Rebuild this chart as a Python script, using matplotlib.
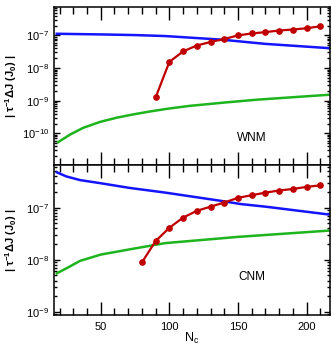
import numpy as np
import matplotlib
matplotlib.use('Agg')
import matplotlib.pyplot as plt
from matplotlib.ticker import MultipleLocator, FixedLocator, LogFormatterSciNotation, NullFormatter

plt.rcParams['font.family'] = ['Liberation Sans', 'DejaVu Sans']
plt.rcParams['mathtext.default'] = 'regular'

# WNM (top panel), values are log10 of |tau^-1 dJ|
wnm_blue_n = [18, 50, 75, 97, 138, 170, 216]
wnm_blue_log = [-6.95, -6.97, -6.99, -7.02, -7.13, -7.26, -7.39]
wnm_green_n = [19, 27.6, 37.3, 49.5, 61.7, 73.7, 85.9, 98.1, 114.5, 139.3, 163.6, 187.8, 215.7]
wnm_green_log = [-10.27, -10.04, -9.83, -9.65, -9.52, -9.42, -9.33, -9.25, -9.16, -9.06, -8.97, -8.90, -8.82]
wnm_red_n = [90, 100, 110, 120, 130, 140, 150, 160, 170, 180, 190, 200, 210]
wnm_red_log = [-8.90, -7.81, -7.49, -7.31, -7.20, -7.11, -7.00, -6.94, -6.90, -6.85, -6.82, -6.78, -6.72]
wnm_decades = [-10, -9, -8, -7]

# CNM (bottom panel)
cnm_blue_n = [18, 25, 35, 50, 57, 71, 97, 138, 152, 170, 216]
cnm_blue_log = [-6.32, -6.40, -6.47, -6.53, -6.56, -6.62, -6.71, -6.87, -6.93, -6.98, -7.13]
cnm_green_n = [18, 26, 35, 50, 71, 97, 150, 216]
cnm_green_log = [-8.26, -8.15, -8.02, -7.90, -7.80, -7.68, -7.56, -7.44]
cnm_red_n = [80, 90, 100, 110, 120, 130, 140, 150, 160, 170, 180, 190, 200, 210]
cnm_red_log = [-8.05, -7.64, -7.385, -7.19, -7.06, -6.98, -6.90, -6.81, -6.76, -6.71, -6.67, -6.64, -6.60, -6.57]
cnm_decades = [-9, -8, -7]

blue = '#1414ff'
green = '#1db41d'
red = '#c00000'

fig = plt.figure(figsize=(3.32, 3.46), dpi=100)
gs = fig.add_gridspec(2, 1, left=53.5/332, right=330/332, top=1-7/346, bottom=1-315/346,
                      hspace=0, height_ratios=[158, 150])
ax1 = fig.add_subplot(gs[0])
ax2 = fig.add_subplot(gs[1], sharex=ax1)

panels = [
    (ax1, wnm_blue_n, wnm_blue_log, wnm_green_n, wnm_green_log, wnm_red_n, wnm_red_log,
     (-10.97, -6.13), wnm_decades, 'WNM', 0.17),
    (ax2, cnm_blue_n, cnm_blue_log, cnm_green_n, cnm_green_log, cnm_red_n, cnm_red_log,
     (-9.06, -6.18), cnm_decades, 'CNM', 0.255),
]

for ax, bn, bl, gn, gl, rn, rl, ylim, decades, name, ty in panels:
    ax.plot(bn, 10**np.array(bl), color=blue, lw=1.8)
    ax.plot(gn, 10**np.array(gl), color=green, lw=1.8)
    ax.plot(rn, 10**np.array(rl), color=red, lw=1.6, marker='o', ms=3.8)
    ax.set_yscale('log')
    ax.set_ylim(10**ylim[0], 10**ylim[1])
    ax.set_xlim(15.6, 217)
    ax.xaxis.set_major_locator(MultipleLocator(50))
    ax.xaxis.set_minor_locator(MultipleLocator(10))
    lo, hi = 10**ylim[0], 10**ylim[1]
    minors = [m * 10.0**d for d in range(decades[0] - 1, decades[-1] + 1) for m in range(2, 10)]
    ax.yaxis.set_major_locator(FixedLocator([10.0**d for d in decades]))
    ax.yaxis.set_minor_locator(FixedLocator([v for v in minors if lo < v < hi]))
    ax.yaxis.set_major_formatter(LogFormatterSciNotation())
    ax.yaxis.set_minor_formatter(NullFormatter())
    ax.tick_params(which='both', direction='in', top=True, right=True, labelsize=8, width=1.0)
    ax.tick_params(axis='x', which='major', length=9.5, pad=5)
    ax.tick_params(axis='x', which='minor', length=4.7)
    ax.tick_params(axis='y', which='major', length=4, pad=3)
    ax.tick_params(axis='y', which='minor', length=2.2)
    for s in ax.spines.values():
        s.set_linewidth(1.1)
    ax.set_ylabel('| τ$^{-1}$ΔJ (J$_0$) |', fontsize=8, fontweight='bold')
    ax.yaxis.set_label_coords(-0.125, 0.5)
    ax.text(0.716, ty, name, transform=ax.transAxes, ha='center', va='center', fontsize=8.5)

ax1.tick_params(axis='x', which='both', labelbottom=False)
ax2.set_xlabel('N$_{c}$', fontsize=9)
ax2.xaxis.set_label_coords(0.5, -0.105)

fig.savefig('out.png', dpi=100)
